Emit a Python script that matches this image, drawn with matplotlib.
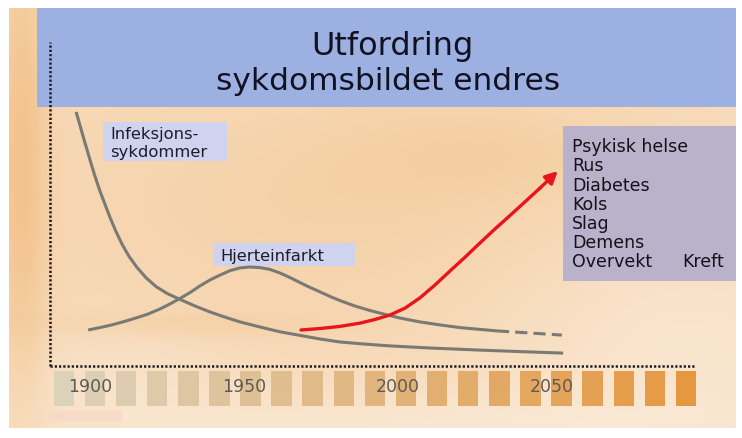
import numpy as np
import matplotlib
matplotlib.use("Agg")
import matplotlib.pyplot as plt
from matplotlib.patches import Rectangle

# ---------------- data ----------------
title_line1 = "Utfordring"
title_line2 = "sykdomsbildet endres"
tick_years = [1900, 1950, 2000, 2050]
tick_labels = ["1900", "1950", "2000", "2050"]

infek_label = ["Infeksjons-", "sykdommer"]
hjerte_label = "Hjerteinfarkt"
new_diseases = ["Psykisk helse", "Rus", "Diabetes", "Kols", "Slag", "Demens", "Overvekt"]
extra_disease = "Kreft"

# relative level (arbitrary units)
infek_years = [1895.5, 1896.8, 1898.4, 1900.0, 1901.6, 1903.2, 1904.9, 1906.5, 1908.4,
               1910.4, 1912.7, 1915.3, 1918.2, 1921.4, 1925.0, 1929.2, 1934.1, 1939.0,
               1943.8, 1948.7, 1955.2, 1961.7, 1968.2, 1974.7, 1981.2, 1989.3, 1997.4,
               2010.4, 2026.6, 2039.6, 2053.6]
infek_vals = [84.7, 80.0, 74.3, 68.7, 63.3, 58.4, 53.8, 49.5, 44.9,
              40.6, 36.5, 32.8, 29.4, 26.5, 24.2, 22.2, 20.0, 18.0,
              16.3, 14.7, 13.0, 11.4, 10.2, 9.0, 8.0, 7.3, 6.7,
              6.0, 5.3, 4.8, 4.3]

hjerte_years = [1899.4, 1903.2, 1907.1, 1911.0, 1914.9, 1918.8, 1922.7, 1926.0, 1929.2,
                1932.5, 1935.7, 1939.0, 1942.2, 1945.5, 1948.7, 1951.9, 1955.2, 1958.4,
                1961.7, 1964.9, 1968.2, 1971.4, 1974.7, 1977.9, 1981.2, 1986.0, 1990.9,
                1995.8, 2000.6, 2007.1, 2013.6, 2020.1, 2026.6, 2032.1]
hjerte_vals = [12.0, 12.8, 13.7, 14.8, 16.0, 17.3, 19.0, 20.7, 22.5,
               24.5, 26.7, 28.7, 30.3, 31.8, 32.7, 33.0, 32.8, 32.2,
               31.0, 29.5, 27.8, 26.2, 24.7, 23.2, 21.8, 20.0, 18.5,
               17.2, 16.0, 14.7, 13.7, 12.8, 12.2, 11.7]
hjerte_proj_years = [2032.1, 2042.9, 2053.2]
hjerte_proj_vals = [11.7, 11.0, 10.3]

trend_years = [1968.5, 1974.7, 1981.2, 1987.7, 1992.5, 1997.4, 2002.3, 2007.1, 2012.0,
               2016.9, 2021.8, 2026.6, 2031.5, 2036.4, 2041.2, 2046.1]
trend_vals = [12.0, 12.5, 13.2, 14.3, 15.5, 17.0, 19.3, 22.7, 27.0,
              31.7, 36.3, 41.0, 45.7, 50.2, 54.7, 59.3]
trend_tip = (2051.9, 65.0)

decade_boxes = 1891.5 + 10.1 * np.arange(21)

# ---------------- figure ----------------
W, H = 742, 439
fig = plt.figure(figsize=(W / 100, H / 100), dpi=100)
fig.patch.set_facecolor("white")
plt.rcParams["font.family"] = ["DejaVu Sans"]

bg = fig.add_axes([0, 0, 1, 1])
bg.axis("off")

# painted peach background (smooth, deterministic)
yy, xx = np.mgrid[0:H:3, 0:W:3].astype(float)


def g(cx, cy, sx, sy):
    return np.exp(-(((xx - cx) / sx) ** 2 + ((yy - cy) / sy) ** 2))


w = (0.40 + 0.50 * g(12, 150, 26, 260) + 0.22 * g(330, 200, 300, 140)
     + 0.18 * g(170, 330, 140, 14) + 0.15 * g(500, 150, 140, 50)
     - 0.22 * g(680, 340, 180, 110) - 0.25 * g(420, 440, 450, 50)
     - 0.12 * g(110, 380, 120, 60))
w = np.clip(w, 0, 1)
pale = np.array([251, 237, 221]) / 255
orange = np.array([242, 193, 137]) / 255
img = pale * (1 - w[..., None]) + orange * w[..., None]
bg.imshow(img, extent=(9, 736, 429, 9), interpolation="bicubic", aspect="auto", zorder=0)
bg.set_xlim(0, W)
bg.set_ylim(H, 0)

# pale stroke near bottom left
bg.add_patch(Rectangle((50, 412), 72, 10, color=(0.97, 0.85, 0.78), alpha=0.8, lw=0, zorder=1))

# title banner
bg.add_patch(Rectangle((37, 9), 699, 99, color="#9db0e2", lw=0, zorder=2))
bg.text(392, 55, title_line1, ha="center", va="baseline", fontsize=23, color="#111122", zorder=3)
bg.text(388, 90, title_line2, ha="center", va="baseline", fontsize=22.5, color="#111122", zorder=3)

# label boxes
lab_col = "#cdd3f1"
txt_col = "#1c1c2c"
bg.add_patch(Rectangle((103, 123), 124, 39, color=lab_col, lw=0, alpha=0.95, zorder=2))
bg.text(110, 139.3, infek_label[0], ha="left", va="baseline", fontsize=11.8, color=txt_col, zorder=3)
bg.text(110, 157.3, infek_label[1], ha="left", va="baseline", fontsize=11.8, color=txt_col, zorder=3)

bg.add_patch(Rectangle((213, 244), 142, 23, color=lab_col, lw=0, alpha=0.95, zorder=2))
bg.text(220, 260.7, hjerte_label, ha="left", va="baseline", fontsize=11.8, color=txt_col, zorder=3)

bg.add_patch(Rectangle((563, 127), 173, 155, color="#bab1cb", lw=0, zorder=2))
for i, name in enumerate(new_diseases):
    bg.text(572, 152.3 + 19.2 * i, name, ha="left", va="baseline", fontsize=12.5,
            color="#121218", zorder=3)
bg.text(682, 152.3 + 19.2 * (len(new_diseases) - 1), extra_disease, ha="left",
        va="baseline", fontsize=12.5, color="#121218", zorder=3)

# ---------------- data axes ----------------
px_per_year = 3.08
px_per_unit = 3.0
x_left_px, x_right_px = 50, 696
y_top_px, y_axis_px = 43, 367
ax = fig.add_axes([x_left_px / W, (H - y_axis_px) / H,
                   (x_right_px - x_left_px) / W, (y_axis_px - y_top_px) / H])
ax.patch.set_alpha(0)
ax.set_xlim(1900 + (x_left_px - 90) / px_per_year, 1900 + (x_right_px - 90) / px_per_year)
ax.set_ylim(0, (y_axis_px - y_top_px) / px_per_unit)

for s in ax.spines.values():
    s.set_visible(False)
dot = dict(color="#1e1e22", lw=1.8, ls=(0, (0.9, 0.8)), dash_capstyle="butt",
           transform=ax.transAxes, clip_on=False, zorder=5)
ax.plot([0, 0], [0, 1], **dot)
ax.plot([0, 1], [0, 0], **dot)

ax.set_yticks([])
ax.set_xticks(tick_years)
ax.set_xticklabels(tick_labels, fontsize=12.5, color="#5e5b57")
ax.tick_params(axis="x", length=0, pad=8)
for lbl in ax.get_xticklabels():
    lbl.set_zorder(6)

# decade boxes under the axis
t = np.linspace(0, 1, len(decade_boxes))
c0 = np.array([218, 209, 186]) / 255
c1 = np.array([229, 146, 52]) / 255
box_cols = [tuple(c0 * (1 - k) + c1 * k) for k in t]
ax.bar(decade_boxes, height=-35 / px_per_unit, bottom=-5 / px_per_unit,
       width=20.5 / px_per_year, color=box_cols, alpha=0.92, clip_on=False, zorder=1)

grey = "#7a7a74"
ax.plot(infek_years, infek_vals, color=grey, lw=2.2, solid_joinstyle="round",
        solid_capstyle="butt", clip_on=False, zorder=3)
ax.plot(hjerte_years, hjerte_vals, color=grey, lw=2.2, solid_joinstyle="round",
        solid_capstyle="butt", clip_on=False, zorder=3)
ax.plot(hjerte_proj_years, hjerte_proj_vals, color=grey, lw=2.2, ls=(0, (4, 2)),
        clip_on=False, zorder=3)

red = "#e8151a"
ax.plot(trend_years, trend_vals, color=red, lw=2.4, solid_joinstyle="round",
        solid_capstyle="round", clip_on=False, zorder=4)
ax.annotate("", xy=trend_tip, xytext=(trend_years[-1], trend_vals[-1]),
            arrowprops=dict(arrowstyle="-|>", color=red, lw=2.4, mutation_scale=18,
                            shrinkA=0, shrinkB=0), zorder=4)

fig.savefig("out.png", dpi=100, facecolor="white")
